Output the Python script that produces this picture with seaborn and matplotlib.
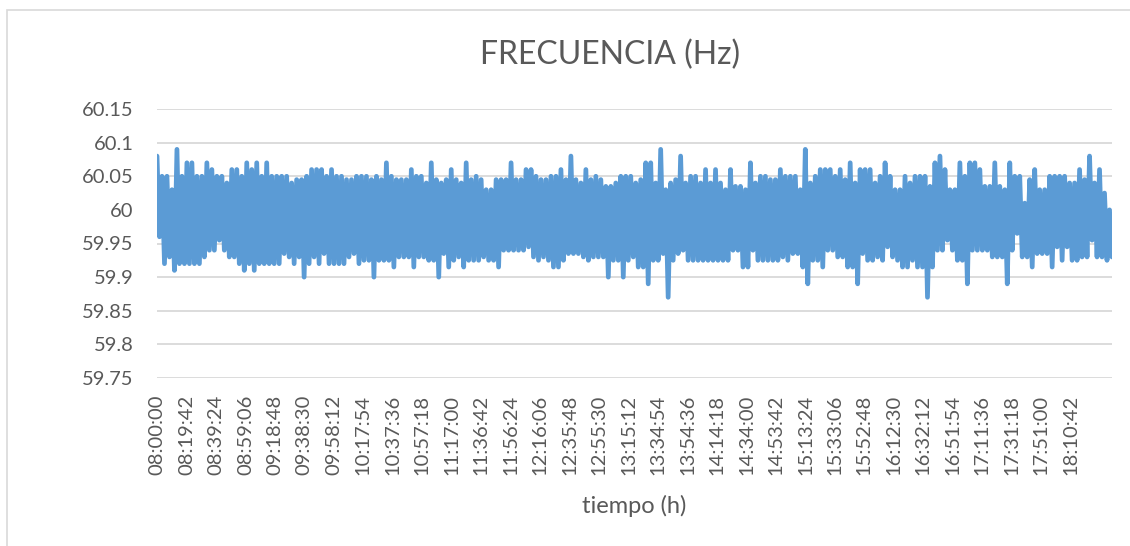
import numpy as np
import pandas as pd
import matplotlib
matplotlib.use("Agg")
import matplotlib.pyplot as plt
import seaborn as sns
from matplotlib.patches import Rectangle

# ---- data (Hz) ----
# upper and lower excursions of the frequency record, one pair every sample step
freq_upper = [
    60.08, 60.05, 60.05, 60.03, 60.09, 60.05, 60.07, 60.07, 60.05, 60.05,
    60.07, 60.06, 60.05, 60.05, 60.04, 60.06, 60.06, 60.05, 60.07, 60.06,
    60.07, 60.05, 60.07, 60.05, 60.05, 60.05, 60.05, 60.04, 60.045, 60.045,
    60.05, 60.06, 60.06, 60.06, 60.05, 60.06, 60.05, 60.05, 60.045, 60.045,
    60.05,
    60.05, 60.05, 60.045, 60.05, 60.045, 60.07, 60.05, 60.045, 60.045, 60.045,
    60.06, 60.05, 60.05, 60.04, 60.07, 60.045, 60.04, 60.045, 60.06, 60.045,
    60.04, 60.07, 60.045, 60.05, 60.045, 60.03, 60.03, 60.045, 60.045, 60.045,
    60.07, 60.045, 60.045, 60.06, 60.06, 60.05, 60.045, 60.045, 60.05, 60.05,
    60.06, 60.045, 60.08, 60.045, 60.04, 60.06, 60.045, 60.05, 60.045, 60.035,
    60.035, 60.04, 60.05, 60.05, 60.05, 60.04,
    60.045, 60.07, 60.07, 60.04, 60.09, 60.03, 60.04, 60.045, 60.08, 60.04,
    60.05, 60.05, 60.04, 60.06, 60.04, 60.06, 60.04, 60.03, 60.06, 60.035,
    60.035, 60.03, 60.07, 60.04, 60.05, 60.05, 60.045, 60.045, 60.06, 60.05,
    60.05, 60.05, 60.03, 60.09, 60.04, 60.05, 60.06, 60.06, 60.06, 60.05,
    60.06, 60.045, 60.07, 60.04, 60.06, 60.06, 60.06, 60.04, 60.05, 60.07,
    60.05, 60.03, 60.03, 60.05, 60.04, 60.05,
    60.05, 60.05, 60.035, 60.07, 60.08, 60.06, 60.03, 60.03, 60.07, 60.05,
    60.07, 60.07, 60.06, 60.035, 60.035, 60.07, 60.035, 60.03, 60.07, 60.05,
    60.05, 60.01, 60.045, 60.06, 60.03, 60.03, 60.05, 60.05, 60.05, 60.05,
    60.04, 60.04, 60.06, 60.045, 60.08, 60.04, 60.06, 60.025, 60.0,
]
freq_lower = [
    59.96, 59.92, 59.93, 59.91, 59.92, 59.92, 59.92, 59.92, 59.92, 59.93,
    59.94, 59.94, 59.955, 59.94, 59.93, 59.93, 59.92, 59.91, 59.92, 59.91,
    59.92, 59.92, 59.92, 59.92, 59.92, 59.935, 59.93, 59.92, 59.93, 59.90,
    59.92, 59.93, 59.92, 59.935, 59.92, 59.92, 59.92, 59.92, 59.93, 59.935,
    59.92,
    59.925, 59.925, 59.90, 59.925, 59.925, 59.925, 59.915, 59.93, 59.93, 59.93,
    59.915, 59.93, 59.93, 59.925, 59.925, 59.90, 59.935, 59.915, 59.925, 59.93,
    59.915, 59.925, 59.925, 59.925, 59.93, 59.925, 59.925, 59.915, 59.94, 59.94,
    59.94, 59.94, 59.94, 59.945, 59.93, 59.925, 59.93, 59.925, 59.915, 59.915,
    59.925, 59.935, 59.935, 59.935, 59.93, 59.925, 59.93, 59.93, 59.93, 59.90,
    59.925, 59.925, 59.90, 59.925, 59.93, 59.915,
    59.915, 59.89, 59.925, 59.925, 59.935, 59.87, 59.925, 59.935, 59.94, 59.925,
    59.925, 59.925, 59.925, 59.925, 59.925, 59.925, 59.925, 59.925, 59.94, 59.94,
    59.915, 59.915, 59.94, 59.925, 59.925, 59.925, 59.925, 59.925, 59.93, 59.925,
    59.935, 59.935, 59.915, 59.89, 59.925, 59.925, 59.915, 59.94, 59.94, 59.93,
    59.93, 59.915, 59.915, 59.89, 59.935, 59.925, 59.925, 59.93, 59.925, 59.945,
    59.93, 59.925, 59.915, 59.915, 59.925, 59.915,
    59.915, 59.87, 59.915, 59.94, 59.94, 59.955, 59.94, 59.925, 59.925, 59.89,
    59.94, 59.94, 59.94, 59.94, 59.93, 59.93, 59.93, 59.89, 59.94, 59.965,
    59.93, 59.93, 59.915, 59.935, 59.935, 59.935, 59.915, 59.945, 59.925, 59.945,
    59.925, 59.925, 59.93, 59.93, 59.955, 59.93, 59.93, 59.925, 59.93,
]
sample_step_s = 200          # seconds between successive upper samples
tick_step_s = 1182           # 19 min 42 s between time labels
tick_labels = [
    "08:00:00", "08:19:42", "08:39:24", "08:59:06", "09:18:48", "09:38:30",
    "09:58:12", "10:17:54", "10:37:36", "10:57:18", "11:17:00", "11:36:42",
    "11:56:24", "12:16:06", "12:35:48", "12:55:30", "13:15:12", "13:34:54",
    "13:54:36", "14:14:18", "14:34:00", "14:53:42", "15:13:24", "15:33:06",
    "15:52:48", "16:12:30", "16:32:12", "16:51:54", "17:11:36", "17:31:18",
    "17:51:00", "18:10:42",
]
y_ticks = [59.75, 59.8, 59.85, 59.9, 59.95, 60.0, 60.05, 60.1, 60.15]
y_tick_labels = ["59.75", "59.8", "59.85", "59.9", "59.95", "60", "60.05", "60.1", "60.15"]

# ---- build the series (upper/lower samples alternate in time) ----
n = len(freq_upper)
t_up = np.arange(n) * sample_step_s
t_lo = t_up + sample_step_s / 2
t = np.empty(2 * n)
v = np.empty(2 * n)
t[0::2] = t_up
t[1::2] = t_lo
v[0::2] = freq_upper
v[1::2] = freq_lower
df = pd.DataFrame({"t": t, "freq": v})

sns.set_theme(style="white")
plt.rcParams["font.family"] = ["Lato", "DejaVu Sans"]
text_color = "#595959"

fig = plt.figure(figsize=(11.30, 5.46), dpi=100)
ax = fig.add_axes([157 / 1130, 1 - 378 / 546, (1112 - 157) / 1130, (378 - 109) / 546])

sns.lineplot(data=df, x="t", y="freq", ax=ax, color="#5B9BD5", linewidth=3.4,
             solid_joinstyle="round", solid_capstyle="round", estimator=None)

ax.set_xlim(0, t[-1])
ax.set_ylim(59.75, 60.15)
ax.set_yticks(y_ticks)
ax.set_yticklabels(y_tick_labels)
ax.set_xticks(np.arange(len(tick_labels)) * tick_step_s)
ax.set_xticklabels(tick_labels, rotation=90)
ax.tick_params(axis="both", length=0, labelsize=14.5, colors=text_color)
ax.tick_params(axis="y", pad=17)
ax.tick_params(axis="x", pad=12)
ax.grid(axis="y", color="#D9D9D9", linewidth=1.3)
ax.set_axisbelow(True)
for s in ax.spines.values():
    s.set_visible(False)

ax.set_xlabel("tiempo (h)", fontsize=17, color=text_color, labelpad=14)
ax.set_ylabel("")
fig.text(0.540, 1 - 55 / 546, "FRECUENCIA (Hz)", ha="center", va="center",
         fontsize=23, color=text_color)

# chart-area border
fig.patches.append(Rectangle((6.5 / 1130, -0.1), 1.2, 1 - 9.5 / 546 + 0.1,
                             transform=fig.transFigure, fill=False,
                             edgecolor="#D9D9D9", linewidth=1.2))

fig.savefig("out.png", dpi=100)
